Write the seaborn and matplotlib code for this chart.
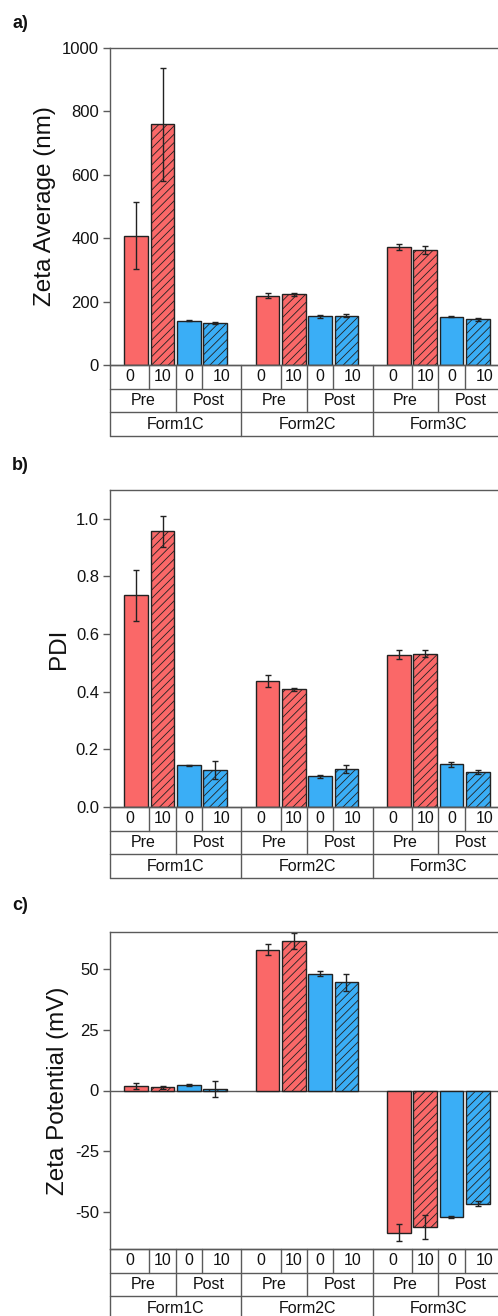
import matplotlib
matplotlib.use("Agg")
import matplotlib.pyplot as plt
import numpy as np
import pandas as pd
import seaborn as sns

forms = ["Form1C", "Form2C", "Form3C"]
stages = ["Pre", "Post"]
times = ["0", "10"]

zeta_avg = [408, 760, 140, 133, 218, 223, 153, 155, 372, 363, 152, 144]
zeta_avg_err = [105, 178, 1, 4, 8, 4, 4, 5, 10, 13, 1, 5]

pdi = [0.734, 0.957, 0.145, 0.128, 0.437, 0.408, 0.107, 0.132, 0.528, 0.532, 0.148, 0.122]
pdi_err = [0.090, 0.054, 0.002, 0.032, 0.022, 0.005, 0.005, 0.013, 0.016, 0.013, 0.008, 0.006]

zeta_pot = [1.8, 1.4, 2.2, 0.5, 57.8, 61.2, 47.9, 44.4, -58.3, -55.9, -51.8, -46.4]
zeta_pot_err = [1.2, 0.6, 0.4, 3.3, 2.2, 3.2, 1.0, 3.5, 3.5, 4.9, 0.3, 1.0]

red = "#fa6868"
blue = "#3aaef6"
edge = "#222222"
grey = "#5a5a5a"

sns.set_theme(style="ticks")
plt.rcParams["font.family"] = ["Liberation Sans", "DejaVu Sans"]
plt.rcParams["axes.unicode_minus"] = False
plt.rcParams["hatch.linewidth"] = 0.6
plt.rcParams["text.color"] = "#111111"
plt.rcParams["axes.labelcolor"] = "#111111"
plt.rcParams["ytick.labelcolor"] = "#111111"

# slot order: 4 bars per formulation, one empty slot between formulations
rows = []
order = []
for fi, f in enumerate(forms):
    if fi > 0:
        order.append(f"gap{fi}")
    for s in stages:
        for t in times:
            order.append(f"{f}|{s}|{t}")
            rows.append({"slot": f"{f}|{s}|{t}", "form": f, "stage": s, "time": t})
base = pd.DataFrame(rows)

W, H = 498, 1316
fig = plt.figure(figsize=(W / 100, H / 100), dpi=100)

panels = [
    ("a)", zeta_avg, zeta_avg_err, "Zeta Average (nm)", (0, 1000), np.arange(0, 1001, 200), "{:.0f}", 48, 24),
    ("b)", pdi, pdi_err, "PDI", (0, 1.1), np.arange(0, 1.01, 0.2), "{:.1f}", 490, 465),
    ("c)", zeta_pot, zeta_pot_err, "Zeta Potential (mV)", (-65, 65), [-50, -25, 0, 25, 50], "{:.0f}", 932, 905),
]

ax_h = 317
row_h = 23.7
left = 110
right = 504

for label, vals, errs, ylab, ylim, yticks, fmt, top, lab_y in panels:
    df = base.copy()
    df["value"] = vals
    ax = fig.add_axes([left / W, 1 - (top + ax_h) / H, (right - left) / W, ax_h / H])
    sns.barplot(data=df, x="slot", y="value", hue="stage", order=order,
                palette={"Pre": red, "Post": blue}, dodge=False, width=0.9,
                saturation=1, errorbar=None, edgecolor=edge, linewidth=1,
                legend=False, ax=ax)
    for p in ax.patches:
        idx = int(round(p.get_x() + p.get_width() / 2))
        if idx < len(order) and order[idx].endswith("|10"):
            p.set_hatch("////")
    pos = [order.index(s) for s in df["slot"]]
    ax.errorbar(pos, vals, yerr=errs, fmt="none", ecolor=edge, elinewidth=1,
                capsize=2.5, capthick=1)
    ax.set_xlim(-1, 14)
    ax.set_ylim(*ylim)
    ax.set_yticks(yticks)
    ax.set_yticklabels([fmt.format(v) for v in yticks], fontsize=12)
    ax.set_xticks([])
    ax.set_xlabel("")
    ax.set_ylabel(ylab, fontsize=17.5)
    ax.tick_params(axis="y", length=5, width=1, color=grey, pad=3)
    for sp in ax.spines.values():
        sp.set_color(grey)
        sp.set_linewidth(1)
    ax.spines["right"].set_visible(False)
    if ylim[0] < 0:
        ax.axhline(0, color=grey, lw=1, zorder=0.5)
    fig.text(12 / W, 1 - lab_y / H, label, fontsize=13, fontweight="bold",
             va="center", ha="left")

    # category table below the axes
    tab_top = top + ax_h
    tax = fig.add_axes([left / W, 1 - (tab_top + 3 * row_h) / H, (right - left) / W, 3 * row_h / H])
    tax.set_xlim(-1, 14)
    tax.set_ylim(3, 0)
    tax.axis("off")
    for r in range(4):
        tax.plot([-1, 14], [r, r], color=grey, lw=1, clip_on=False)
    for fi, f in enumerate(forms):
        g = fi * 5
        for x in [g - 1, g + 0.5, g + 1.5, g + 2.5]:
            tax.plot([x, x], [0, 1], color=grey, lw=1, clip_on=False)
        for x in [g - 1, g + 1.5]:
            tax.plot([x, x], [1, 2], color=grey, lw=1, clip_on=False)
        tax.plot([g - 1, g - 1], [2, 3], color=grey, lw=1, clip_on=False)
        centers = [g - 0.25, g + 1.0, g + 2.0, g + 3.25]
        for c, t in zip(centers, times * 2):
            tax.text(c, 0.5, t, ha="center", va="center", fontsize=11.5)
        tax.text(g + 0.25, 1.5, stages[0], ha="center", va="center", fontsize=11.5)
        tax.text(g + 2.75, 1.5, stages[1], ha="center", va="center", fontsize=11.5)
        tax.text(g + 1.5, 2.5, f, ha="center", va="center", fontsize=11.5)

fig.savefig("out.png", dpi=100)
